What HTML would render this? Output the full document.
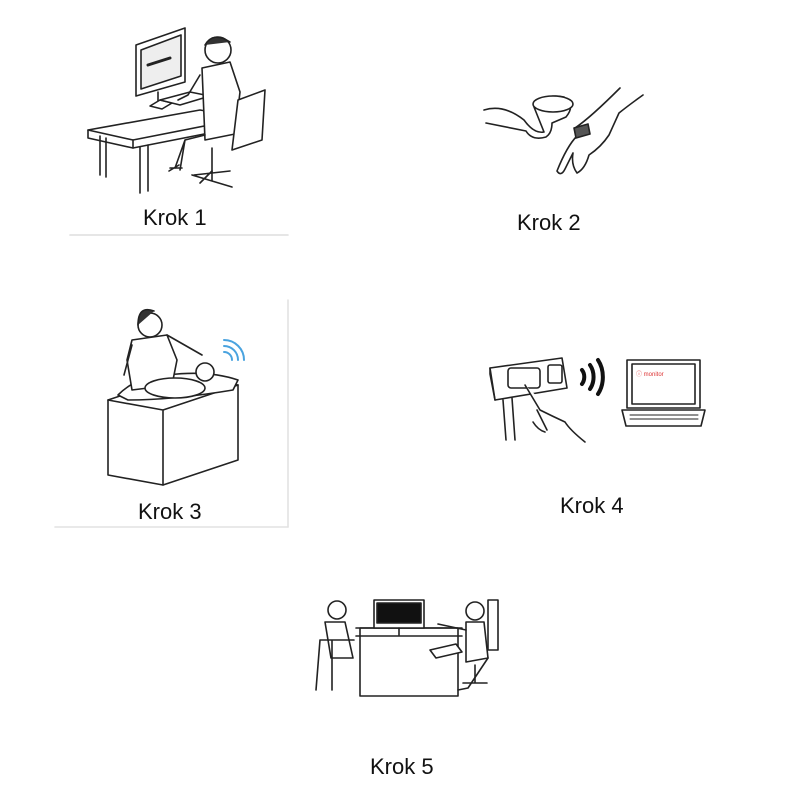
<!DOCTYPE html>
<html><head><style>
body{margin:0;background:#fff;width:800px;height:800px;overflow:hidden}
svg{display:block}
text{font-family:"Liberation Sans",sans-serif;font-size:22px;fill:#111;stroke:none}
</style></head><body>
<svg width="800" height="800" viewBox="0 0 800 800" fill="none" stroke="#222" stroke-width="1.6" stroke-linejoin="round" stroke-linecap="round">
<line x1="70" y1="235" x2="288" y2="235" stroke="#ddd"/>
<line x1="288" y1="300" x2="288" y2="527" stroke="#e2e2e2"/>
<line x1="55" y1="527" x2="288" y2="527" stroke="#e2e2e2"/>

<g>
<polygon points="88,130 200,110 245,118 133,140" fill="#fff"/>
<polyline points="88,130 88,138 133,148 245,126 245,118"/>
<line x1="133" y1="148" x2="133" y2="140"/>
<line x1="100" y1="136" x2="100" y2="175"/><line x1="106" y1="138" x2="106" y2="177"/>
<line x1="140" y1="147" x2="140" y2="193"/><line x1="148" y1="145" x2="148" y2="191"/>
<polygon points="136,45 185,28 185,82 136,96" fill="#fff"/>
<polygon points="141,50 181,35 181,76 141,89" fill="#eee"/>
<line x1="148" y1="65" x2="170" y2="58" stroke-width="3"/>
<line x1="158" y1="92" x2="158" y2="104"/>
<polygon points="150,106 160,100 172,103 162,109" fill="#fff"/>
<polygon points="160,100 190,92 210,96 180,105" fill="#fff"/>
<circle cx="218" cy="50" r="13" fill="#fff"/>
<path d="M205,45 q8,-14 25,-3" fill="#333"/>
<path d="M202,68 l28,-6 l10,30 l-5,42 l-30,6 z" fill="#fff"/>
<path d="M200,75 l-12,20 l-10,5"/>
<path d="M205,135 l-20,5 l-10,28 m10,-28 l-5,30"/>
<path d="M170,168 l12,0 m-3,-3 l-10,6"/>
<polygon points="238,100 265,90 262,140 232,150" fill="#fff"/>
<line x1="212" y1="148" x2="212" y2="172"/>
<path d="M192,175 l40,12 m-20,-6 l0,-10 m-18,4 l36,-4 m-18,0 l-12,12"/>
</g>
<text x="143" y="225">Krok 1</text>

<g>
<path d="M484,110 q20,-6 40,10 q10,14 20,12 l-10,-25 q10,-14 30,-10 q12,8 2,20 l-14,6 q0,10 -6,14 q-14,4 -20,-6 q-10,-2 -40,-8" fill="#fff"/>
<ellipse cx="553" cy="104" rx="20" ry="8" fill="#fff"/>
<path d="M620,88 q-30,30 -45,40 l2,8 q-10,10 -20,35 q4,6 8,-2 l8,-16 q-2,12 4,20 q8,-4 12,-18 q12,-8 20,-20 l10,-22 q10,-8 24,-18"/>
<path d="M574,128 l14,-4 l2,10 l-14,4 z" fill="#555"/>
</g>
<text x="517" y="230">Krok 2</text>

<g>
<path d="M108,400 l75,-25 l55,10 l0,75 l-75,25 l-55,-10 z" fill="#fff"/>
<path d="M108,400 l55,10 l75,-25 m-75,25 l0,75"/>
<path d="M118,395 q20,-20 50,-20 q40,-5 70,5 l-5,10 q-60,10 -105,10 z" fill="#fff"/>
<circle cx="150" cy="325" r="12" fill="#fff"/>
<path d="M138,325 q0,-20 16,-14" fill="#333"/>
<path d="M132,340 l35,-5 l10,25 l-5,25 l-40,5 l-5,-30 z" fill="#fff"/>
<path d="M132,345 l-8,30 m43,-40 l35,20"/>
<ellipse cx="175" cy="388" rx="30" ry="10" fill="#fff"/>
<circle cx="205" cy="372" r="9" fill="#fff"/>
<path d="M224,352 a8,8 0 0 1 8,8 M224,346 a14,14 0 0 1 14,14 M224,340 a20,20 0 0 1 20,20" stroke="#4aa3df" stroke-width="2"/>
</g>
<text x="138" y="519">Krok 3</text>

<g>
<path d="M490,368 l72,-10 l5,30 l-72,12 z" fill="#fff"/>
<path d="M490,368 l0,6 l5,26" />
<rect x="508" y="368" width="32" height="20" rx="3" fill="#fff"/>
<rect x="548" y="365" width="14" height="18" rx="2"/>
<line x1="503" y1="400" x2="506" y2="440"/><line x1="512" y1="398" x2="515" y2="440"/>
<path d="M525,385 l15,25 q12,6 25,12 q5,8 20,20 m-52,-20 q5,8 12,10 m-8,-22 l10,20" fill="#fff"/>
<path d="M582,370 a8,10 0 0 1 0,14 M590,365 a14,18 0 0 1 0,24 M598,360 a20,26 0 0 1 0,34" stroke="#111" stroke-width="4"/>
<rect x="627" y="360" width="73" height="48" fill="#fff"/>
<rect x="632" y="364" width="63" height="40"/>
<text x="636" y="376" style="font-size:6px;fill:#d33">ⓘ monitor</text>
<path d="M622,410 l83,0 l-4,16 l-75,0 z" fill="#fff"/>
<line x1="630" y1="415" x2="698" y2="415" stroke-width="1"/><line x1="630" y1="419" x2="698" y2="419" stroke-width="1"/>
</g>
<text x="560" y="513">Krok 4</text>

<g>
<rect x="360" y="628" width="98" height="68" fill="#fff"/>
<line x1="356" y1="628" x2="462" y2="628"/><line x1="356" y1="636" x2="462" y2="636"/>
<rect x="374" y="600" width="50" height="28" fill="#fff"/>
<rect x="377" y="603" width="44" height="20" fill="#111"/>
<line x1="399" y1="628" x2="399" y2="635"/>
<circle cx="337" cy="610" r="9" fill="#fff"/>
<path d="M325,622 l20,0 l8,36 l-22,0 z" fill="#fff"/>
<path d="M320,640 l12,0 l0,50 m0,-50 l22,0 m-34,0 l-4,50"/>
<circle cx="475" cy="611" r="9" fill="#fff"/>
<path d="M466,622 l18,0 l4,36 l-22,4 z" fill="#fff"/>
<path d="M466,630 l-28,-6 m50,34 l-20,30 l-10,2"/>
<rect x="488" y="600" width="10" height="50" fill="#fff"/>
<path d="M430,650 l26,-6 l6,8 l-26,6 z" fill="#fff"/>
<path d="M475,665 l0,18 m-12,0 l24,0"/>
</g>
<text x="370" y="774">Krok 5</text>
</svg>
</body></html>
